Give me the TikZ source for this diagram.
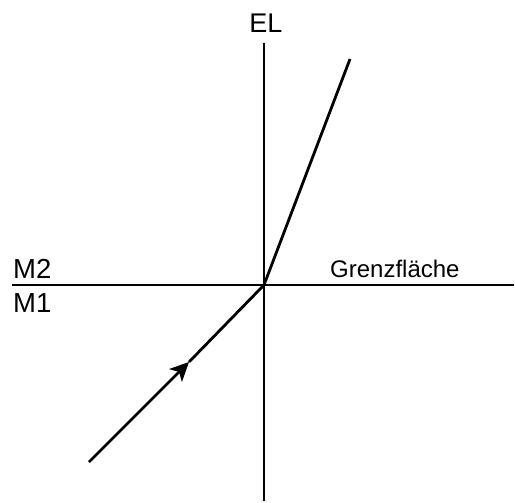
\documentclass[tikz,border=0pt]{standalone}
\usepackage{fontspec}
\setmainfont{Liberation Sans}
\usetikzlibrary{arrows.meta}
\begin{document}
\begin{tikzpicture}[x=1pt,y=-1pt,
  axis/.style={line width=1.9pt},
  ray/.style={line width=2.8pt},
  lbl/.style={inner sep=0pt, font=\fontsize{27.5}{27.5}\selectfont},
  elbl/.style={inner sep=0pt, font=\fontsize{27}{27}\selectfont},
  slbl/.style={inner sep=0pt, font=\fontsize{24}{24}\selectfont}]
\useasboundingbox (0,0) rectangle (515,503);
\coordinate (O) at (264,285);
\coordinate (Vt) at (264,43);
\coordinate (Vb) at (264,501);
\coordinate (Hl) at (12,285);
\coordinate (Hr) at (514,285);
\coordinate (R) at (350,59);
\coordinate (S) at (89,462);
\coordinate (A) at (189,362);
\draw[axis] (Vt) -- (Vb);
\draw[axis] (Hl) -- (Hr);
\draw[ray] (O) -- (R);
\draw[ray,-{Stealth[length=19pt,width=18pt,inset=5pt]}] (S) -- (A);
\draw[ray] (A) -- (O);
\node[elbl, anchor=base] (EL) at (266,33) {EL};
\node[lbl, anchor=base west] (M2) at (13,278) {M2};
\node[lbl, anchor=base west] (M1) at (13,312) {M1};
\node[slbl, anchor=base west] (G) at (330,277) {Grenzfläche};
\end{tikzpicture}
\end{document}
